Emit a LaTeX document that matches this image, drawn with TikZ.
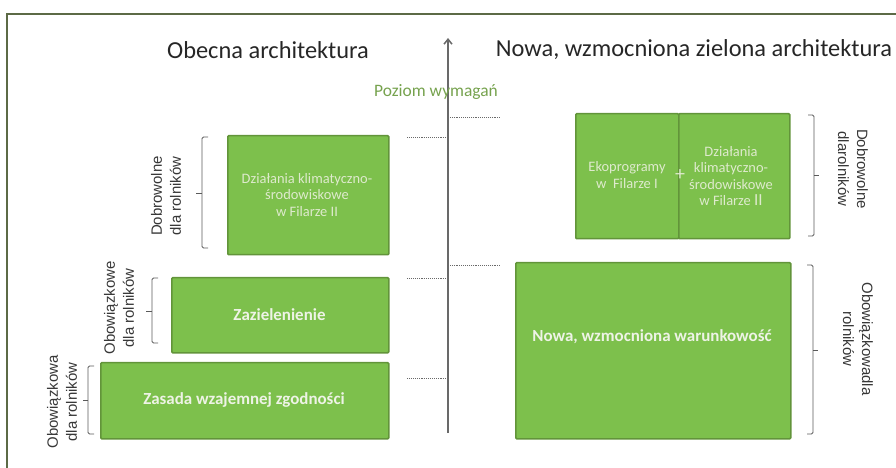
\documentclass[tikz,border=0pt]{standalone}
\usepackage{fontspec}
\setmainfont{Carlito}
\newfontfamily\labfont{Liberation Sans}
\usetikzlibrary{arrows.meta}
\definecolor{boxfill}{RGB}{125,192,76}
\definecolor{boxline}{RGB}{98,148,58}
\definecolor{boxtxt}{RGB}{238,243,230}
\definecolor{smalltxt}{RGB}{222,234,205}
\definecolor{framec}{RGB}{92,106,70}
\definecolor{axisc}{RGB}{105,105,105}
\definecolor{levelc}{RGB}{118,162,78}
\definecolor{labc}{RGB}{55,55,55}
\definecolor{bracketc}{RGB}{90,90,90}
\begin{document}
\begin{tikzpicture}[x=1bp,y=-1bp,
  greenbox/.style={draw=boxline, fill=boxfill, line width=1.5bp, inner sep=0pt, rounded corners=1bp, anchor=north west},
  boldtxt/.style={text=boxtxt, font=\fontsize{17}{20}\selectfont\bfseries, inner sep=0pt},
  smallbox/.style={text=smalltxt, font=\fontsize{14.5}{16.5}\selectfont, align=center, inner sep=0pt},
  titletxt/.style={text=black!85, font=\fontsize{24.5}{28}\selectfont, inner sep=0pt},
  sidelab/.style={text=labc, font=\labfont\fontsize{15}{19}\selectfont, align=center, inner sep=0pt},
  brk/.style={draw=bracketc, line width=0.9bp, rounded corners=1.5bp},
  tickln/.style={draw=axisc, line width=0.9bp, densely dotted},
]
\useasboundingbox (0,0) rectangle (896,468);
% frame (top and left edges visible)
\draw[framec, line width=1.5bp] (7,468) -- (7,14) -- (896,14);

% axis
\coordinate (axbot) at (448,433);
\coordinate (axtop) at (448,38);
\draw[axisc, line width=1.5bp, -{Straight Barb[length=5bp,width=8bp]}] (axbot) -- (axtop);

% dotted level ticks
\coordinate (t1) at (448,117); \coordinate (t1e) at (500,117);
\coordinate (t2) at (448,137); \coordinate (t2e) at (407,137);
\coordinate (t3) at (448,265); \coordinate (t3e) at (500,265);
\coordinate (t4) at (448,278); \coordinate (t4e) at (407,278);
\coordinate (t5) at (448,378); \coordinate (t5e) at (407,378);
\foreach \a/\b in {t1/t1e,t2/t2e,t3/t3e,t4/t4e,t5/t5e}{\draw[tickln] (\a) -- (\b);}

% titles
\node[titletxt] (tl) at (268,50) {Obecna architektura};
\node[titletxt] (tr) at (694,50) {Nowa, wzmocniona zielona architektura};
\node[text=levelc, font=\fontsize{17.5}{20}\selectfont, inner sep=0pt] (lev) at (436,92) {Poziom wymagań};

% left boxes
\node[greenbox, minimum width=161bp, minimum height=119bp] (dzL) at (227,135) {};
\node[smallbox] (dzLt) at (307,195) {Działania klimatyczno-\\środowiskowe\\w Filarze II};
\node[greenbox, minimum width=217bp, minimum height=75bp] (zaz) at (171,277) {};
\node[boldtxt] (zazt) at (279.5,314.5) {Zazielenienie};
\node[greenbox, minimum width=288bp, minimum height=76bp] (zas) at (100,362) {};
\node[boldtxt] (zast) at (244,400) {Zasada wzajemnej zgodności};

% right boxes
\node[greenbox, minimum width=103bp, minimum height=125bp] (eko) at (575,113) {};
\node[greenbox, minimum width=111bp, minimum height=125bp] (dzR) at (678,113) {};
\node[smallbox] (ekot) at (627,175) {Ekoprogramy\\w\ \ Filarze I};
\node[smallbox] (dzRt) at (731,176) {Działania\\klimatyczno-\\środowiskowe\\w Filarze {\fontsize{17}{16.5}\selectfont II}};
\node[text=smalltxt, font=\fontsize{20}{20}\selectfont, inner sep=0pt] (plus) at (680,175) {+};
\node[greenbox, minimum width=275bp, minimum height=176bp] (nowa) at (515,262) {};
\node[boldtxt] (nowat) at (652,337) {Nowa, wzmocniona warunkowość};

% left brackets
\draw[brk] (208,137) -- (202,137) -- (202,248) -- (208,248);
\draw[brk] (202,193) -- (196,193);
\draw[brk] (158,278) -- (152,278) -- (152,343) -- (158,343);
\draw[brk] (152,311) -- (146,311);
\draw[brk] (94,366) -- (88,366) -- (88,434) -- (94,434);
\draw[brk] (88,400) -- (83,400);
% right brackets
\draw[brk] (808,115) -- (814,115) -- (814,236) -- (808,236);
\draw[brk] (814,175) -- (819,175);
\draw[brk] (807,265) -- (813,265) -- (813,434) -- (807,434);
\draw[brk] (813,350) -- (818,350);

% side labels
\node[sidelab, rotate=90] (l1) at (166,196) {Dobrowolne\\dla rolników};
\node[sidelab, rotate=90] (l2) at (119,308) {Obowiązkowe\\dla rolników};
\node[sidelab, rotate=90] (l3) at (62,402) {Obowiązkowa\\dla rolników};
\node[sidelab, rotate=-90] (r1) at (853,169) {Dobrowolne\\dlarolników};
\node[sidelab, rotate=-90] (r2) at (858,339) {Obowiązkowadla\\rolników};
\end{tikzpicture}
\end{document}
